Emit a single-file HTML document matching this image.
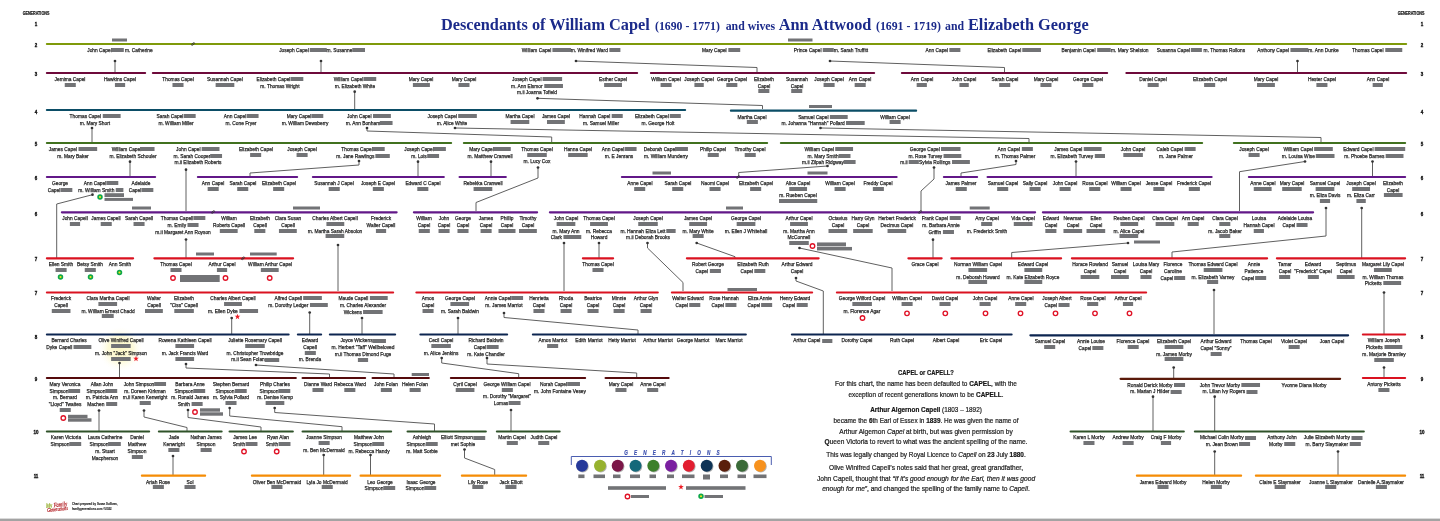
<!DOCTYPE html>
<html lang="en"><head><meta charset="utf-8"><title>Descendants of William Capel</title>
<style>
html,body{margin:0;padding:0;background:#fff}
#c{position:relative;width:1440px;height:521px;overflow:hidden;background:#fff;font-family:"Liberation Sans",sans-serif}
#c svg{position:absolute;left:0;top:0}
.n{position:absolute;transform:translateX(-50%) scaleX(0.85);white-space:nowrap;text-align:center;font-size:5.7px;line-height:6.67px;color:#1c1c1c;-webkit-text-stroke:0.25px #222}
.n p{margin:0}
.n p.b{height:5.6px;line-height:5.6px}
.n i{display:inline-block;height:4px;background:#727376;vertical-align:-0.1px}
.g{position:absolute;font-weight:bold;font-size:5.6px;line-height:6px;color:#111;-webkit-text-stroke:0.35px #111;transform:translate(-50%,-50%) scaleX(.8);white-space:nowrap}
.gh{position:absolute;font-weight:bold;font-size:5.2px;line-height:6px;color:#111;transform:translate(-50%,-50%) scaleX(.71);white-space:nowrap;-webkit-text-stroke:0.2px #111}
.t{position:absolute;font-family:"Liberation Serif",serif;font-weight:bold;color:#1b2a8a;white-space:nowrap;line-height:20px}
.t1{font-size:16.3px}
.t2{font-size:11.8px}
.nt{position:absolute;left:925.7px;font-size:7.3px;line-height:10px;color:#1d1d1d;white-space:nowrap;-webkit-text-stroke:0.22px #222}
.nt b{color:#111}
#credit{position:absolute;left:72px;top:500.5px;font-size:3.9px;line-height:5px;color:#222;white-space:nowrap;transform-origin:0 0;transform:scaleX(.72);font-weight:bold;-webkit-text-stroke:0.12px #222}
.lg{position:absolute;font-family:"Liberation Serif",serif;font-style:italic;font-weight:normal;font-size:6.4px;line-height:7px;color:#b0181e;white-space:nowrap;transform-origin:0 50%;transform:rotate(-6deg) scaleX(.76);-webkit-text-stroke:0.2px currentColor;letter-spacing:0}
#legt{position:absolute;left:675.2px;top:449px;transform:translateX(-50%) scaleX(.7);font-size:6.6px;line-height:8px;letter-spacing:8.8px;color:#3a4fae;-webkit-text-stroke:0.2px #3a4fae;font-style:italic;white-space:nowrap;font-weight:bold}
</style></head><body><div id="c">

<svg width="1440" height="521" viewBox="0 0 1440 521">
<defs><radialGradient id="glow"><stop offset="0" stop-color="#fcf7c6"/><stop offset="0.55" stop-color="#fdfad9"/><stop offset="1" stop-color="#ffffff" stop-opacity="0"/></radialGradient><filter id="sh" x="-30%" y="-30%" width="170%" height="170%"><feGaussianBlur stdDeviation="0.7"/></filter></defs>
<circle cx="120.5" cy="349" r="23" fill="url(#glow)"/>
<g fill="none" stroke="#606060" stroke-width="1" stroke-linejoin="round">
<polyline points="115,61 115,72"/>
<polyline points="321,61 321,72"/>
<polyline points="576,61 757,67.5 757,72"/>
<polyline points="830,61 1004.5,67.5 1004.5,72"/>
<polyline points="1297.5,61 1297.5,72"/>
<polyline points="354.7,91.7 354.7,109"/>
<polyline points="537.5,98.3 762.5,105.5 762.5,109"/>
<polyline points="92,128 92,142"/>
<polyline points="367,128 367,131 551.7,137 551.7,142"/>
<polyline points="455,128 1029,138.5 1029,142"/>
<polyline points="820.5,128 1321,137.5 1321,142"/>
<polyline points="130,161.7 130,176"/>
<polyline points="186,169.7 186,211"/>
<polyline points="359,161 359,165 250,173 250,176"/>
<polyline points="418,161.7 418,176"/>
<polyline points="491,161.7 491,176"/>
<polyline points="538,167.5 538,178 476,202.5 476,211"/>
<polyline points="827.5,166 738.7,172.5 738.7,176"/>
<polyline points="934,167.5 934,179 921,191 921,211"/>
<polyline points="1016,161 1016,164.5 961,173 961,176"/>
<polyline points="1076,161.5 1076,176"/>
<polyline points="1305,161.5 1239.5,171.7 1239.5,211"/>
<polyline points="1372.5,161.5 1372.5,176"/>
<polyline points="92.5,194.7 56.7,204 56.7,258"/>
<polyline points="186,239.5 186,258"/>
<polyline points="338,245 338,291"/>
<polyline points="564,243 564,291"/>
<polyline points="599,243 599,258"/>
<polyline points="647.5,243 647.5,248 683,282.5 683,291"/>
<polyline points="696.7,243 735,256.7 735,258"/>
<polyline points="799.5,248 892,268 892,291"/>
<polyline points="933,239.7 933,258"/>
<polyline points="1128,243 1011.7,252.5 1011.7,258"/>
<polyline points="1326,208 1326,236 1172,252 1172,258"/>
<polyline points="1361.7,208 1361.7,258"/>
<polyline points="796,278 796,281 823.3,291 823.3,334"/>
<polyline points="231.7,318 231.7,334"/>
<polyline points="309.7,312.5 309.7,334"/>
<polyline points="362,318 362,334"/>
<polyline points="458,318 458,334"/>
<polyline points="504,313 504,317.5 638,330 638,334"/>
<polyline points="1214,290 1214,334"/>
<polyline points="1384,292.5 1384,334"/>
<polyline points="119.5,363 119.5,377"/>
<polyline points="186,364 186,368 329.5,374 329.5,377"/>
<polyline points="256,365 394,374 394,377"/>
<polyline points="441.7,358 441.7,363 518.7,373.7 518.7,377"/>
<polyline points="487,358 487,364 636.7,373 636.7,377"/>
<polyline points="1173.7,367.5 1173.7,378"/>
<polyline points="1384,367.5 1384,377"/>
<polyline points="99,410.5 99,431"/>
<polyline points="144,410.5 144,417 187,427.5 187,431"/>
<polyline points="188,410 188,417.5 261,427 261,431"/>
<polyline points="229.7,408 229.7,416 342,426.7 342,431"/>
<polyline points="274.7,408 274.7,412.5 434.5,424 434.5,431"/>
<polyline points="511,410 511,431"/>
<polyline points="1153,396.7 1153,431"/>
<polyline points="1214.7,396.7 1214.7,431"/>
<polyline points="173,456 173,475"/>
<polyline points="323.7,455 323.7,475"/>
<polyline points="370.5,455 370.5,475"/>
<polyline points="464.5,449.5 464.5,458 494.7,469.5 494.7,475"/>
<polyline points="1214.7,451.5 1214.7,475"/>
<polyline points="1338,451.5 1338,475"/>
</g><g fill="#333">
<circle cx="115" cy="61" r="1.35"/>
<circle cx="321" cy="61" r="1.35"/>
<circle cx="576" cy="61" r="1.35"/>
<circle cx="830" cy="61" r="1.35"/>
<circle cx="1297.5" cy="61" r="1.35"/>
<circle cx="354.7" cy="91.7" r="1.35"/>
<circle cx="537.5" cy="98.3" r="1.35"/>
<circle cx="92" cy="128" r="1.35"/>
<circle cx="367" cy="128" r="1.35"/>
<circle cx="455" cy="128" r="1.35"/>
<circle cx="820.5" cy="128" r="1.35"/>
<circle cx="130" cy="161.7" r="1.35"/>
<circle cx="186" cy="169.7" r="1.35"/>
<circle cx="359" cy="161" r="1.35"/>
<circle cx="418" cy="161.7" r="1.35"/>
<circle cx="491" cy="161.7" r="1.35"/>
<circle cx="538" cy="167.5" r="1.35"/>
<circle cx="827.5" cy="166" r="1.35"/>
<circle cx="934" cy="167.5" r="1.35"/>
<circle cx="1016" cy="161" r="1.35"/>
<circle cx="1076" cy="161.5" r="1.35"/>
<circle cx="1305" cy="161.5" r="1.35"/>
<circle cx="1372.5" cy="161.5" r="1.35"/>
<circle cx="92.5" cy="194.7" r="1.35"/>
<circle cx="186" cy="239.5" r="1.35"/>
<circle cx="338" cy="245" r="1.35"/>
<circle cx="564" cy="243" r="1.35"/>
<circle cx="599" cy="243" r="1.35"/>
<circle cx="647.5" cy="243" r="1.35"/>
<circle cx="696.7" cy="243" r="1.35"/>
<circle cx="799.5" cy="248" r="1.35"/>
<circle cx="933" cy="239.7" r="1.35"/>
<circle cx="1128" cy="243" r="1.35"/>
<circle cx="1326" cy="208" r="1.35"/>
<circle cx="1361.7" cy="208" r="1.35"/>
<circle cx="796" cy="278" r="1.35"/>
<circle cx="231.7" cy="318" r="1.35"/>
<circle cx="309.7" cy="312.5" r="1.35"/>
<circle cx="362" cy="318" r="1.35"/>
<circle cx="458" cy="318" r="1.35"/>
<circle cx="504" cy="313" r="1.35"/>
<circle cx="1214" cy="290" r="1.35"/>
<circle cx="1384" cy="292.5" r="1.35"/>
<circle cx="119.5" cy="363" r="1.35"/>
<circle cx="186" cy="364" r="1.35"/>
<circle cx="256" cy="365" r="1.35"/>
<circle cx="441.7" cy="358" r="1.35"/>
<circle cx="487" cy="358" r="1.35"/>
<circle cx="1173.7" cy="367.5" r="1.35"/>
<circle cx="1384" cy="367.5" r="1.35"/>
<circle cx="99" cy="410.5" r="1.35"/>
<circle cx="144" cy="410.5" r="1.35"/>
<circle cx="188" cy="410" r="1.35"/>
<circle cx="229.7" cy="408" r="1.35"/>
<circle cx="274.7" cy="408" r="1.35"/>
<circle cx="511" cy="410" r="1.35"/>
<circle cx="1153" cy="396.7" r="1.35"/>
<circle cx="1214.7" cy="396.7" r="1.35"/>
<circle cx="173" cy="456" r="1.35"/>
<circle cx="323.7" cy="455" r="1.35"/>
<circle cx="370.5" cy="455" r="1.35"/>
<circle cx="464.5" cy="449.5" r="1.35"/>
<circle cx="1214.7" cy="451.5" r="1.35"/>
<circle cx="1338" cy="451.5" r="1.35"/>
</g>
<g stroke="#7f9a0a" stroke-width="2.2" stroke-linecap="round">
<line x1="46.9" y1="44" x2="1406.1" y2="44"/>
</g>
<g stroke="#6e0a3b" stroke-width="2.2" stroke-linecap="round">
<line x1="46.9" y1="73" x2="145.1" y2="73"/>
<line x1="152.9" y1="73" x2="637.1" y2="73"/>
<line x1="650.9" y1="73" x2="874.1" y2="73"/>
<line x1="901.9" y1="73" x2="1107.1" y2="73"/>
<line x1="1126.4" y1="73" x2="1406.1" y2="73"/>
</g>
<g stroke="#0b4d66" stroke-width="2.2" stroke-linecap="round">
<line x1="46.9" y1="110" x2="685.1" y2="110"/>
</g>
<g stroke="#0b4d66" stroke-width="2.2" stroke-linecap="round">
<line x1="730.9" y1="110.7" x2="916.1" y2="110.7"/>
</g>
<g stroke="#41711f" stroke-width="2.2" stroke-linecap="round">
<line x1="46.9" y1="143" x2="451.1" y2="143"/>
<line x1="463.9" y1="143" x2="767.1" y2="143"/>
<line x1="780.9" y1="143" x2="1202.1" y2="143"/>
<line x1="1233.9" y1="143" x2="1405.1" y2="143"/>
</g>
<g stroke="#621888" stroke-width="2.2" stroke-linecap="round">
<line x1="46.9" y1="177" x2="155.1" y2="177"/>
<line x1="197.9" y1="177" x2="297.1" y2="177"/>
<line x1="312.9" y1="177" x2="443.8" y2="177"/>
<line x1="459.6" y1="177" x2="505.8" y2="177"/>
<line x1="621.9" y1="177" x2="896.6" y2="177"/>
<line x1="943.9" y1="177" x2="977.1" y2="177"/>
<line x1="987.6" y1="177" x2="1211.6" y2="177"/>
<line x1="1248.9" y1="177" x2="1405.1" y2="177"/>
</g>
<g stroke="#621888" stroke-width="2.2" stroke-linecap="round">
<line x1="61.9" y1="212.3" x2="396.6" y2="212.3"/>
<line x1="413.9" y1="212.3" x2="537.1" y2="212.3"/>
<line x1="549.9" y1="212.3" x2="1035.1" y2="212.3"/>
<line x1="1042.9" y1="212.3" x2="1313.1" y2="212.3"/>
</g>
<g stroke="#da1220" stroke-width="2.2" stroke-linecap="round">
<line x1="46.9" y1="258.3" x2="133.1" y2="258.3"/>
<line x1="154.4" y1="258.3" x2="293.1" y2="258.3"/>
<line x1="582.9" y1="258.3" x2="613.1" y2="258.3"/>
<line x1="686.9" y1="258.3" x2="818.6" y2="258.3"/>
<line x1="908.4" y1="258.3" x2="941.6" y2="258.3"/>
<line x1="951.4" y1="258.3" x2="1061.1" y2="258.3"/>
<line x1="1071.9" y1="258.3" x2="1267.1" y2="258.3"/>
<line x1="1276.9" y1="258.3" x2="1405.1" y2="258.3"/>
</g>
<g stroke="#da1220" stroke-width="2.2" stroke-linecap="round">
<line x1="46.9" y1="292.5" x2="393.1" y2="292.5"/>
<line x1="416.4" y1="292.5" x2="657.8" y2="292.5"/>
<line x1="671.9" y1="292.5" x2="812.1" y2="292.5"/>
<line x1="836.9" y1="292.5" x2="1146.1" y2="292.5"/>
</g>
<g stroke="#0c2550" stroke-width="2.2" stroke-linecap="round">
<line x1="46.9" y1="334.5" x2="288.6" y2="334.5"/>
<line x1="297.9" y1="334.5" x2="321.1" y2="334.5"/>
<line x1="329.9" y1="334.5" x2="395.1" y2="334.5"/>
<line x1="420.4" y1="334.5" x2="507.1" y2="334.5"/>
<line x1="532.9" y1="334.5" x2="745.8" y2="334.5"/>
<line x1="791.9" y1="334.5" x2="1011.6" y2="334.5"/>
</g>
<g stroke="#0c2550" stroke-width="2.2" stroke-linecap="round">
<line x1="1030.4" y1="335.3" x2="1348.1" y2="335.3"/>
</g>
<g stroke="#da1220" stroke-width="2.2" stroke-linecap="round">
<line x1="1362.9" y1="334.5" x2="1405.1" y2="334.5"/>
</g>
<g stroke="#550a0c" stroke-width="2.2" stroke-linecap="round">
<line x1="46.9" y1="378" x2="295.8" y2="378"/>
<line x1="302.6" y1="378" x2="365.1" y2="378"/>
<line x1="372.6" y1="378" x2="428.8" y2="378"/>
<line x1="450.9" y1="378" x2="585.1" y2="378"/>
<line x1="605.6" y1="378" x2="668.6" y2="378"/>
</g>
<g stroke="#5a1a0a" stroke-width="2.2" stroke-linecap="round">
<line x1="1120.6" y1="378.8" x2="1340.1" y2="378.8"/>
</g>
<g stroke="#da1220" stroke-width="2.2" stroke-linecap="round">
<line x1="1362.9" y1="378" x2="1405.1" y2="378"/>
</g>
<g stroke="#2f5229" stroke-width="2.2" stroke-linecap="round">
<line x1="46.9" y1="431.5" x2="149.1" y2="431.5"/>
<line x1="158.9" y1="431.5" x2="221.6" y2="431.5"/>
<line x1="229.6" y1="431.5" x2="292.8" y2="431.5"/>
<line x1="302.6" y1="431.5" x2="391.1" y2="431.5"/>
<line x1="407.6" y1="431.5" x2="485.8" y2="431.5"/>
<line x1="496.9" y1="431.5" x2="559.6" y2="431.5"/>
<line x1="1070.6" y1="431.5" x2="1183.8" y2="431.5"/>
<line x1="1194.9" y1="431.5" x2="1363.8" y2="431.5"/>
</g>
<g stroke="#f58c05" stroke-width="2.2" stroke-linecap="round">
<line x1="141.9" y1="475.7" x2="205.1" y2="475.7"/>
<line x1="251.9" y1="475.7" x2="350.1" y2="475.7"/>
<line x1="360.6" y1="475.7" x2="440.1" y2="475.7"/>
<line x1="461.9" y1="475.7" x2="526.1" y2="475.7"/>
<line x1="1136.9" y1="475.7" x2="1241.1" y2="475.7"/>
<line x1="1255.9" y1="475.7" x2="1405.1" y2="475.7"/>
</g>
<g fill="#727376">
<rect x="112" y="38.5" width="15" height="3"/>
<rect x="788" y="38.5" width="24.5" height="3"/>
<rect x="809" y="105" width="23" height="3"/>
<rect x="652.5" y="171.5" width="18.5" height="3"/>
<rect x="807.5" y="171.5" width="20" height="3"/>
<rect x="132" y="206.5" width="19" height="3"/>
<rect x="293" y="206.5" width="27" height="3"/>
<rect x="726" y="206.5" width="17" height="3"/>
<rect x="969.7" y="206.5" width="20" height="3"/>
<rect x="104.5" y="193.2" width="19.5" height="3.8"/>
<rect x="104.5" y="197.9" width="28.5" height="3"/>
<rect x="817" y="242.45" width="29" height="3.9"/>
<rect x="817" y="246.95" width="35" height="3.5"/>
<rect x="1134" y="240.5" width="26" height="3"/>
<rect x="196" y="252.5" width="18" height="3"/>
<rect x="250" y="252.5" width="26.7" height="3"/>
<rect x="180" y="275" width="39.7" height="7"/>
<rect x="727.5" y="288" width="29.5" height="3"/>
<rect x="411.7" y="373" width="17.3" height="3"/>
<rect x="68" y="414.8" width="19.5" height="3.4"/>
<rect x="68" y="418.3" width="23.5" height="3.4"/>
<rect x="200" y="408.3" width="20" height="3.4"/>
<rect x="200" y="412.3" width="23" height="3.4"/>
<rect x="578.3" y="474.5" width="6.2" height="3.6"/>
<rect x="593.5" y="474.5" width="11.5" height="3.6"/>
<rect x="613" y="474.5" width="7.5" height="3.6"/>
<rect x="630" y="474.5" width="10" height="3.6"/>
<rect x="649.5" y="474.5" width="6.5" height="3.6"/>
<rect x="667" y="474.5" width="7" height="3.6"/>
<rect x="682" y="474.5" width="12.5" height="3.6"/>
<rect x="703" y="474.5" width="7" height="5"/>
<rect x="720" y="474.5" width="8" height="3.6"/>
<rect x="737.5" y="474.5" width="8.5" height="3.6"/>
<rect x="753.5" y="474.5" width="13" height="3.6"/>
<rect x="608" y="486.2" width="58" height="3.6"/>
<rect x="686" y="486.2" width="59.5" height="3.6"/>
<rect x="631" y="495" width="18" height="3"/>
<rect x="704.5" y="495" width="18.5" height="3"/>
</g>
<g transform="translate(193,44) rotate(-38)" fill="none" stroke="#333" stroke-width="0.7"><rect x="-1.9" y="-0.75" width="2.1" height="1.5" rx="0.75"/><rect x="-0.2" y="-0.75" width="2.1" height="1.5" rx="0.75"/></g>
<g transform="translate(213,212) rotate(-38)" fill="none" stroke="#333" stroke-width="0.7"><rect x="-1.9" y="-0.75" width="2.1" height="1.5" rx="0.75"/><rect x="-0.2" y="-0.75" width="2.1" height="1.5" rx="0.75"/></g>
<g transform="translate(920,212) rotate(-38)" fill="none" stroke="#333" stroke-width="0.7"><rect x="-1.9" y="-0.75" width="2.1" height="1.5" rx="0.75"/><rect x="-0.2" y="-0.75" width="2.1" height="1.5" rx="0.75"/></g>
<g transform="translate(738,177) rotate(-38)" fill="none" stroke="#333" stroke-width="0.7"><rect x="-1.9" y="-0.75" width="2.1" height="1.5" rx="0.75"/><rect x="-0.2" y="-0.75" width="2.1" height="1.5" rx="0.75"/></g>
<g transform="translate(243,258.3) rotate(-38)" fill="none" stroke="#333" stroke-width="0.7"><rect x="-1.9" y="-0.75" width="2.1" height="1.5" rx="0.75"/><rect x="-0.2" y="-0.75" width="2.1" height="1.5" rx="0.75"/></g>
<circle cx="100" cy="197" r="1.9" fill="#f2e61a" stroke="#0fa84b" stroke-width="1.7"/>
<circle cx="60.5" cy="277" r="1.9" fill="#f2e61a" stroke="#0fa84b" stroke-width="1.7"/>
<circle cx="90.5" cy="277" r="1.9" fill="#f2e61a" stroke="#0fa84b" stroke-width="1.7"/>
<circle cx="119.5" cy="272.5" r="1.9" fill="#f2e61a" stroke="#0fa84b" stroke-width="1.7"/>
<circle cx="701" cy="496.3" r="1.9" fill="#f2e61a" stroke="#0fa84b" stroke-width="1.7"/>
<circle cx="173" cy="278" r="2.25" fill="#fff" stroke="#e01226" stroke-width="1.35"/>
<circle cx="225.5" cy="278" r="2.25" fill="#fff" stroke="#e01226" stroke-width="1.35"/>
<circle cx="269.7" cy="278" r="2.25" fill="#fff" stroke="#e01226" stroke-width="1.35"/>
<circle cx="812.5" cy="246" r="2.25" fill="#fff" stroke="#e01226" stroke-width="1.35"/>
<circle cx="862.5" cy="318" r="2.25" fill="#fff" stroke="#e01226" stroke-width="1.35"/>
<circle cx="907" cy="313.3" r="2.25" fill="#fff" stroke="#e01226" stroke-width="1.35"/>
<circle cx="945.3" cy="313.3" r="2.25" fill="#fff" stroke="#e01226" stroke-width="1.35"/>
<circle cx="985.5" cy="313.3" r="2.25" fill="#fff" stroke="#e01226" stroke-width="1.35"/>
<circle cx="1020.5" cy="313.3" r="2.25" fill="#fff" stroke="#e01226" stroke-width="1.35"/>
<circle cx="1055.5" cy="313.3" r="2.25" fill="#fff" stroke="#e01226" stroke-width="1.35"/>
<circle cx="1095" cy="313.3" r="2.25" fill="#fff" stroke="#e01226" stroke-width="1.35"/>
<circle cx="1129.5" cy="313.3" r="2.25" fill="#fff" stroke="#e01226" stroke-width="1.35"/>
<circle cx="63.3" cy="418" r="2.25" fill="#fff" stroke="#e01226" stroke-width="1.35"/>
<circle cx="195" cy="412" r="2.25" fill="#fff" stroke="#e01226" stroke-width="1.35"/>
<circle cx="244" cy="451.5" r="2.25" fill="#fff" stroke="#e01226" stroke-width="1.35"/>
<circle cx="276.7" cy="451.5" r="2.25" fill="#fff" stroke="#e01226" stroke-width="1.35"/>
<circle cx="627.5" cy="496.5" r="2.25" fill="#fff" stroke="#e01226" stroke-width="1.35"/>
<polygon points="237.5,313.7 238.21,315.73 240.35,315.77 238.64,317.07 239.26,319.13 237.5,317.9 235.74,319.13 236.36,317.07 234.65,315.77 236.79,315.73" fill="#ee1c25"/>
<polygon points="136,355.7 136.71,357.73 138.85,357.77 137.14,359.07 137.76,361.13 136,359.9 134.24,361.13 134.86,359.07 133.15,357.77 135.29,357.73" fill="#ee1c25"/>
<polygon points="681,484 681.71,486.03 683.85,486.07 682.14,487.37 682.76,489.43 681,488.2 679.24,489.43 679.86,487.37 678.15,486.07 680.29,486.03" fill="#ee1c25"/>
<path d="M571.3 465 V456.5 H771.3 V465" fill="none" stroke="#4a5db0" stroke-width="1"/>
<circle cx="582.8" cy="466.6" r="6" fill="#777" opacity=".55" filter="url(#sh)"/>
<circle cx="582" cy="465.7" r="6" fill="#26399a"/>
<circle cx="600.8" cy="466.6" r="6" fill="#777" opacity=".55" filter="url(#sh)"/>
<circle cx="600" cy="465.7" r="6" fill="#97b22f"/>
<circle cx="618.5" cy="466.6" r="6" fill="#777" opacity=".55" filter="url(#sh)"/>
<circle cx="617.7" cy="465.7" r="6" fill="#7b1648"/>
<circle cx="636.3" cy="466.6" r="6" fill="#777" opacity=".55" filter="url(#sh)"/>
<circle cx="635.5" cy="465.7" r="6" fill="#14687a"/>
<circle cx="654.1" cy="466.6" r="6" fill="#777" opacity=".55" filter="url(#sh)"/>
<circle cx="653.3" cy="465.7" r="6" fill="#3c7f2a"/>
<circle cx="671.8" cy="466.6" r="6" fill="#777" opacity=".55" filter="url(#sh)"/>
<circle cx="671" cy="465.7" r="6" fill="#7a1fa0"/>
<circle cx="689.6" cy="466.6" r="6" fill="#777" opacity=".55" filter="url(#sh)"/>
<circle cx="688.8" cy="465.7" r="6" fill="#e21e30"/>
<circle cx="707.5" cy="466.6" r="6" fill="#777" opacity=".55" filter="url(#sh)"/>
<circle cx="706.7" cy="465.7" r="6" fill="#0e3356"/>
<circle cx="725.3" cy="466.6" r="6" fill="#777" opacity=".55" filter="url(#sh)"/>
<circle cx="724.5" cy="465.7" r="6" fill="#5a1f0c"/>
<circle cx="742.8" cy="466.6" r="6" fill="#777" opacity=".55" filter="url(#sh)"/>
<circle cx="742" cy="465.7" r="6" fill="#3a6a38"/>
<circle cx="760.8" cy="466.6" r="6" fill="#777" opacity=".55" filter="url(#sh)"/>
<circle cx="760" cy="465.7" r="6" fill="#f7921e"/>
<rect x="0" y="518.6" width="1440" height="2.4" fill="#a3a3a3"/>
</svg>
<div class="t t1" style="left:441px;top:14.5px">Descendants of William Capel</div>
<div class="t t2" style="left:655px;top:16.02px">(1690 - 1771)</div>
<div class="t t2" style="left:725.7px;top:16.02px">and wives</div>
<div class="t t1" style="left:778.7px;top:14.5px">Ann Attwood</div>
<div class="t t2" style="left:876px;top:16.02px">(1691 - 1719)</div>
<div class="t t2" style="left:945px;top:16.02px">and</div>
<div class="t t1" style="left:968px;top:14.5px">Elizabeth George</div>
<div class="gh" style="left:36.3px;top:12.9px">GENERATIONS</div>
<div class="gh" style="left:1410.6px;top:12.9px">GENERATIONS</div>
<div class="g" style="left:36px;top:24px">1</div>
<div class="g" style="left:1421.5px;top:24px">1</div>
<div class="g" style="left:36px;top:45px">2</div>
<div class="g" style="left:1421.5px;top:45px">2</div>
<div class="g" style="left:36px;top:74px">3</div>
<div class="g" style="left:1421.5px;top:74px">3</div>
<div class="g" style="left:36px;top:111.5px">4</div>
<div class="g" style="left:1421.5px;top:111.5px">4</div>
<div class="g" style="left:36px;top:143.5px">5</div>
<div class="g" style="left:1421.5px;top:143.5px">5</div>
<div class="g" style="left:36px;top:178px">6</div>
<div class="g" style="left:1421.5px;top:178px">6</div>
<div class="g" style="left:36px;top:214px">6</div>
<div class="g" style="left:1421.5px;top:214px">6</div>
<div class="g" style="left:36px;top:259px">7</div>
<div class="g" style="left:1421.5px;top:259px">7</div>
<div class="g" style="left:36px;top:293px">7</div>
<div class="g" style="left:1421.5px;top:293px">7</div>
<div class="g" style="left:36px;top:337px">8</div>
<div class="g" style="left:1421.5px;top:337px">8</div>
<div class="g" style="left:36px;top:379px">9</div>
<div class="g" style="left:1421.5px;top:379px">9</div>
<div class="g" style="left:36px;top:432px">10</div>
<div class="g" style="left:1421.5px;top:432px">10</div>
<div class="g" style="left:36px;top:476px">11</div>
<div class="g" style="left:1421.5px;top:476px">11</div>
<div class="n" style="left:119.5px;top:46.99px"><p>John Capel<i style="width:14.12px"></i> m. Catherine</p></div>
<div class="n" style="left:322px;top:46.99px"><p>Joseph Capel <i style="width:19.41px"></i>m. Susanne<i style="width:14.71px"></i></p></div>
<div class="n" style="left:571px;top:46.99px"><p>William Capel <i style="width:21.18px"></i>m. Winifred Ward <i style="width:12.94px"></i></p></div>
<div class="n" style="left:721px;top:46.99px"><p>Mary Capel <i style="width:14.12px"></i></p></div>
<div class="n" style="left:831px;top:46.99px"><p>Prince Capel <i style="width:12.94px"></i>m. Sarah Truffitt</p></div>
<div class="n" style="left:943px;top:46.99px"><p>Ann Capel <i style="width:12.94px"></i></p></div>
<div class="n" style="left:1014px;top:46.99px"><p>Elizabeth Capel <i style="width:21.18px"></i></p></div>
<div class="n" style="left:1104.5px;top:46.99px"><p>Benjamin Capel <i style="width:16.47px"></i>m. Mary Shelston</p></div>
<div class="n" style="left:1201px;top:46.99px"><p>Susanna Capel <i style="width:12.94px"></i> m. Thomas Rollons</p></div>
<div class="n" style="left:1298px;top:46.99px"><p>Anthony Capel <i style="width:21.18px"></i>m. Ann Dunke</p></div>
<div class="n" style="left:1377px;top:46.99px"><p>Thomas Capel <i style="width:20px"></i></p></div>
<div class="n" style="left:70px;top:75.99px"><p>Jemima Capel</p><p class="b"><i style="width:12.94px"></i></p></div>
<div class="n" style="left:120px;top:75.99px"><p>Hawkins Capel</p><p class="b"><i style="width:11.76px"></i></p></div>
<div class="n" style="left:178px;top:75.99px"><p>Thomas Capel</p><p class="b"><i style="width:12.94px"></i></p></div>
<div class="n" style="left:225px;top:75.99px"><p>Susannah Capel</p><p class="b"><i style="width:22.35px"></i></p></div>
<div class="n" style="left:280px;top:75.99px"><p>Elizabeth Capel<i style="width:15.29px"></i></p><p>m. Thomas Wright</p></div>
<div class="n" style="left:355px;top:75.99px"><p>William Capel<i style="width:15.29px"></i></p><p>m. Elizabeth White</p></div>
<div class="n" style="left:421px;top:75.99px"><p>Mary Capel</p><p class="b"><i style="width:20px"></i></p></div>
<div class="n" style="left:464px;top:75.99px"><p>Mary Capel</p><p class="b"><i style="width:12.94px"></i></p></div>
<div class="n" style="left:537px;top:75.99px"><p>Joseph Capel <i style="width:22.35px"></i></p><p>m. Ann Elsmor <i style="width:22.35px"></i></p><p>m.ii Joanna Tofield</p></div>
<div class="n" style="left:613px;top:75.99px"><p>Esther Capel</p><p class="b"><i style="width:21.18px"></i></p></div>
<div class="n" style="left:666px;top:75.99px"><p>William Capel</p><p class="b"><i style="width:12.94px"></i></p></div>
<div class="n" style="left:699px;top:75.99px"><p>Joseph Capel</p><p class="b"><i style="width:11.76px"></i></p></div>
<div class="n" style="left:732px;top:75.99px"><p>George Capel</p><p class="b"><i style="width:12.94px"></i></p></div>
<div class="n" style="left:764px;top:75.99px"><p>Elizabeth</p><p>Capel</p><p class="b"><i style="width:12.94px"></i></p></div>
<div class="n" style="left:797px;top:75.99px"><p>Susannah</p><p>Capel</p><p class="b"><i style="width:12.94px"></i></p></div>
<div class="n" style="left:829px;top:75.99px"><p>Joseph Capel</p><p class="b"><i style="width:12.94px"></i></p></div>
<div class="n" style="left:860px;top:75.99px"><p>Ann Capel</p><p class="b"><i style="width:12.94px"></i></p></div>
<div class="n" style="left:922px;top:75.99px"><p>Ann Capel</p><p class="b"><i style="width:11.76px"></i></p></div>
<div class="n" style="left:963.5px;top:75.99px"><p>John Capel</p><p class="b"><i style="width:11.76px"></i></p></div>
<div class="n" style="left:1005px;top:75.99px"><p>Sarah Capel</p><p class="b"><i style="width:12.94px"></i></p></div>
<div class="n" style="left:1046px;top:75.99px"><p>Mary Capel</p><p class="b"><i style="width:12.94px"></i></p></div>
<div class="n" style="left:1087.5px;top:75.99px"><p>George Capel</p><p class="b"><i style="width:12.94px"></i></p></div>
<div class="n" style="left:1153px;top:75.99px"><p>Daniel Capel</p><p class="b"><i style="width:12.94px"></i></p></div>
<div class="n" style="left:1209.5px;top:75.99px"><p>Elizabeth Capel</p><p class="b"><i style="width:12.94px"></i></p></div>
<div class="n" style="left:1266px;top:75.99px"><p>Mary Capel</p><p class="b"><i style="width:21.18px"></i></p></div>
<div class="n" style="left:1322px;top:75.99px"><p>Hester Capel</p><p class="b"><i style="width:12.94px"></i></p></div>
<div class="n" style="left:1378px;top:75.99px"><p>Ann Capel</p><p class="b"><i style="width:11.76px"></i></p></div>
<div class="n" style="left:95px;top:112.99px"><p>Thomas Capel <i style="width:21.18px"></i></p><p>m. Mary Short</p></div>
<div class="n" style="left:176px;top:112.99px"><p>Sarah Capel<i style="width:14.12px"></i></p><p>m. William Miller</p></div>
<div class="n" style="left:241px;top:112.99px"><p>Ann Capel<i style="width:14.12px"></i></p><p>m. Cone Fryer</p></div>
<div class="n" style="left:305px;top:112.99px"><p>Mary Capel<i style="width:14.12px"></i></p><p>m. William Dewsberry</p></div>
<div class="n" style="left:369px;top:112.99px"><p>John Capel <i style="width:21.18px"></i></p><p>m. Ann Bonham<i style="width:14.12px"></i></p></div>
<div class="n" style="left:451.5px;top:112.99px"><p>Joseph Capel <i style="width:21.18px"></i></p><p>m. Alice White</p></div>
<div class="n" style="left:520px;top:112.99px"><p>Martha Capel</p><p class="b"><i style="width:22.35px"></i></p></div>
<div class="n" style="left:556px;top:112.99px"><p>James Capel</p><p class="b"><i style="width:21.18px"></i></p></div>
<div class="n" style="left:601px;top:112.99px"><p>Hannah Capel <i style="width:12.94px"></i></p><p>m. Samuel Miller</p></div>
<div class="n" style="left:657.5px;top:112.99px"><p>Elizabeth Capel <i style="width:12.94px"></i></p><p>m. George Holt</p></div>
<div class="n" style="left:752px;top:113.69px"><p>Martha Capel</p><p class="b"><i style="width:12.94px"></i></p></div>
<div class="n" style="left:823px;top:113.69px"><p>Samuel Capel <i style="width:21.18px"></i></p><p>m. Johanna "Hannah" Pollard <i style="width:21.76px"></i></p></div>
<div class="n" style="left:894.5px;top:113.69px"><p>William Capel</p><p class="b"><i style="width:12.94px"></i></p></div>
<div class="n" style="left:72.5px;top:145.99px"><p>James Capel <i style="width:22.35px"></i></p><p>m. Mary Baker</p></div>
<div class="n" style="left:132.5px;top:145.99px"><p>William Capel<i style="width:15.29px"></i></p><p>m. Elizabeth Schouler</p></div>
<div class="n" style="left:198px;top:145.99px"><p>John Capel <i style="width:21.18px"></i></p><p>m. Sarah Cooper<i style="width:14.12px"></i></p><p>m.ii Elizabeth Roberts</p></div>
<div class="n" style="left:256px;top:145.99px"><p>Elizabeth Capel</p><p class="b"><i style="width:12.94px"></i></p></div>
<div class="n" style="left:302px;top:145.99px"><p>Joseph Capel</p><p class="b"><i style="width:12.94px"></i></p></div>
<div class="n" style="left:362.5px;top:145.99px"><p>Thomas Capel<i style="width:14.12px"></i></p><p>m. Jane Rawlings <i style="width:16.47px"></i></p></div>
<div class="n" style="left:425px;top:145.99px"><p>Joseph Capel<i style="width:14.12px"></i></p><p>m. Lois<i style="width:14.12px"></i></p></div>
<div class="n" style="left:490px;top:145.99px"><p>Mary Capel<i style="width:20px"></i></p><p>m. Matthew Cranwell</p></div>
<div class="n" style="left:536.7px;top:145.99px"><p>Thomas Capel</p><p class="b"><i style="width:22.35px"></i></p><p>m. Lucy Cox</p></div>
<div class="n" style="left:578px;top:145.99px"><p>Hanna Capel</p><p class="b"><i style="width:22.35px"></i></p></div>
<div class="n" style="left:619px;top:145.99px"><p>Ann Capel<i style="width:14.12px"></i></p><p>m. E Jenrans</p></div>
<div class="n" style="left:666px;top:145.99px"><p>Deborah Capel<i style="width:14.12px"></i></p><p>m. William Munderry</p></div>
<div class="n" style="left:712.5px;top:145.99px"><p>Philip Capel</p><p class="b"><i style="width:12.94px"></i></p></div>
<div class="n" style="left:749.7px;top:145.99px"><p>Timothy Capel</p><p class="b"><i style="width:12.94px"></i></p></div>
<div class="n" style="left:829px;top:145.99px"><p>William Capel <i style="width:21.18px"></i></p><p>m. Mary Smith<i style="width:14.12px"></i></p><p>m.ii Zilpah Ridgway<i style="width:14.12px"></i></p></div>
<div class="n" style="left:935px;top:145.99px"><p>George Capel <i style="width:22.35px"></i></p><p>m. Rose Turvey <i style="width:21.18px"></i></p><p>m.ii <i style="width:11.76px"></i>Sylvia Rollings <i style="width:21.18px"></i></p></div>
<div class="n" style="left:1015px;top:145.99px"><p>Ann Capel <i style="width:12.94px"></i></p><p>m. Thomas Palmer</p></div>
<div class="n" style="left:1077.5px;top:145.99px"><p>James Capel <i style="width:21.18px"></i></p><p>m. Elizabeth Turvey <i style="width:12.94px"></i></p></div>
<div class="n" style="left:1133px;top:145.99px"><p>John Capel</p><p class="b"><i style="width:22.35px"></i></p></div>
<div class="n" style="left:1176px;top:145.99px"><p>Caleb Capel <i style="width:12.94px"></i></p><p>m. Jane Palmer</p></div>
<div class="n" style="left:1253.7px;top:145.99px"><p>Joseph Capel</p><p class="b"><i style="width:12.94px"></i></p></div>
<div class="n" style="left:1308px;top:145.99px"><p>William Capel <i style="width:21.18px"></i></p><p>m. Louisa Wise <i style="width:21.18px"></i></p></div>
<div class="n" style="left:1374px;top:145.99px"><p>Edward Capel <i style="width:35.29px"></i></p><p>m. Phoebe Barnes <i style="width:21.18px"></i></p></div>
<div class="n" style="left:60px;top:179.99px"><p>George</p><p>Capel<i style="width:14.12px"></i></p></div>
<div class="n" style="left:101px;top:179.99px"><p>Ann Capel<i style="width:14.12px"></i></p><p>m. William Smith <i style="width:9.41px"></i></p></div>
<div class="n" style="left:141px;top:179.99px"><p>Adelaide</p><p>Capel<i style="width:14.12px"></i></p></div>
<div class="n" style="left:212.5px;top:179.99px"><p>Ann Capel</p><p class="b"><i style="width:12.94px"></i></p></div>
<div class="n" style="left:243px;top:179.99px"><p>Sarah Capel</p><p class="b"><i style="width:12.94px"></i></p></div>
<div class="n" style="left:279px;top:179.99px"><p>Elizabeth Capel</p><p class="b"><i style="width:12.94px"></i></p></div>
<div class="n" style="left:334px;top:179.99px"><p>Susannah J Capel</p><p class="b"><i style="width:12.94px"></i></p></div>
<div class="n" style="left:378px;top:179.99px"><p>Joseph E Capel</p><p class="b"><i style="width:12.94px"></i></p></div>
<div class="n" style="left:422.5px;top:179.99px"><p>Edward C Capel</p><p class="b"><i style="width:12.94px"></i></p></div>
<div class="n" style="left:482.5px;top:179.99px"><p>Rebekka Cranwell</p><p class="b"><i style="width:21.18px"></i></p></div>
<div class="n" style="left:639.7px;top:179.99px"><p>Anne Capel</p><p class="b"><i style="width:12.94px"></i></p></div>
<div class="n" style="left:678px;top:179.99px"><p>Sarah Capel</p><p class="b"><i style="width:12.94px"></i></p></div>
<div class="n" style="left:715px;top:179.99px"><p>Naomi Capel</p><p class="b"><i style="width:12.94px"></i></p></div>
<div class="n" style="left:755.5px;top:179.99px"><p>Elizabeth Capel</p><p class="b"><i style="width:12.94px"></i></p></div>
<div class="n" style="left:798px;top:179.99px"><p>Alice Capel</p><p class="b"><i style="width:21.18px"></i></p><p>m. Rueben Capel</p><p class="b"><i style="width:44.71px"></i></p></div>
<div class="n" style="left:840px;top:179.99px"><p>William Capel</p><p class="b"><i style="width:12.94px"></i></p></div>
<div class="n" style="left:878px;top:179.99px"><p>Freddy Capel</p><p class="b"><i style="width:12.94px"></i></p></div>
<div class="n" style="left:961px;top:179.99px"><p>James Palmer</p><p class="b"><i style="width:12.94px"></i></p></div>
<div class="n" style="left:1003px;top:179.99px"><p>Samuel Capel</p><p class="b"><i style="width:12.94px"></i></p></div>
<div class="n" style="left:1035px;top:179.99px"><p>Sally Capel</p><p class="b"><i style="width:12.94px"></i></p></div>
<div class="n" style="left:1065px;top:179.99px"><p>John Capel</p><p class="b"><i style="width:12.94px"></i></p></div>
<div class="n" style="left:1094.5px;top:179.99px"><p>Rosa Capel</p><p class="b"><i style="width:12.94px"></i></p></div>
<div class="n" style="left:1126px;top:179.99px"><p>William Capel</p><p class="b"><i style="width:12.94px"></i></p></div>
<div class="n" style="left:1158.7px;top:179.99px"><p>Jesse Capel</p><p class="b"><i style="width:12.94px"></i></p></div>
<div class="n" style="left:1194px;top:179.99px"><p>Frederick Capel</p><p class="b"><i style="width:12.94px"></i></p></div>
<div class="n" style="left:1262.5px;top:179.99px"><p>Anne Capel</p><p class="b"><i style="width:21.18px"></i></p></div>
<div class="n" style="left:1292px;top:179.99px"><p>Mary Capel</p><p class="b"><i style="width:22.35px"></i></p></div>
<div class="n" style="left:1325px;top:179.99px"><p>Samuel Capel</p><p class="b"><i style="width:22.35px"></i></p><p>m. Eliza Davis</p><p class="b"><i style="width:12.94px"></i></p></div>
<div class="n" style="left:1361px;top:179.99px"><p>Joseph Capel</p><p class="b"><i style="width:21.18px"></i></p><p>m. Eliza Carr</p><p class="b"><i style="width:11.76px"></i></p></div>
<div class="n" style="left:1393px;top:179.99px"><p>Elizabeth</p><p>Capel</p><p class="b"><i style="width:22.35px"></i></p></div>
<div class="n" style="left:75px;top:215.29px"><p>John Capell</p><p class="b"><i style="width:12.94px"></i></p></div>
<div class="n" style="left:106px;top:215.29px"><p>James Capell</p><p class="b"><i style="width:12.94px"></i></p></div>
<div class="n" style="left:138.7px;top:215.29px"><p>Sarah Capell</p><p class="b"><i style="width:12.94px"></i></p></div>
<div class="n" style="left:183px;top:215.29px"><p>Thomas Capell<i style="width:14.12px"></i></p><p>m. Emily <i style="width:12.94px"></i></p><p>m.ii Margaret Ann Royson</p></div>
<div class="n" style="left:229px;top:215.29px"><p>William</p><p>Roberts Capell</p><p class="b"><i style="width:21.18px"></i></p></div>
<div class="n" style="left:260px;top:215.29px"><p>Elizabeth</p><p>Capell</p><p class="b"><i style="width:12.94px"></i></p></div>
<div class="n" style="left:288px;top:215.29px"><p>Clara Susan</p><p>Capell</p><p class="b"><i style="width:21.18px"></i></p></div>
<div class="n" style="left:334.5px;top:215.29px"><p>Charles Albert Capell</p><p class="b"><i style="width:21.18px"></i></p><p>m. Martha Sarah Absolon</p><p class="b"><i style="width:22.35px"></i></p></div>
<div class="n" style="left:381px;top:215.29px"><p>Frederick</p><p>Walter Capell</p><p class="b"><i style="width:12.94px"></i></p></div>
<div class="n" style="left:424px;top:215.29px"><p>William</p><p>Capel</p><p class="b"><i style="width:12.94px"></i></p></div>
<div class="n" style="left:444px;top:215.29px"><p>John</p><p>Capel</p><p class="b"><i style="width:12.94px"></i></p></div>
<div class="n" style="left:463px;top:215.29px"><p>George</p><p>Capel</p><p class="b"><i style="width:12.94px"></i></p></div>
<div class="n" style="left:486px;top:215.29px"><p>James</p><p>Capel</p><p class="b"><i style="width:12.94px"></i></p></div>
<div class="n" style="left:506.7px;top:215.29px"><p>Phillip</p><p>Capel</p><p class="b"><i style="width:20px"></i></p></div>
<div class="n" style="left:528px;top:215.29px"><p>Timothy</p><p>Capel</p><p class="b"><i style="width:21.18px"></i></p></div>
<div class="n" style="left:565.5px;top:215.29px"><p>John Capel</p><p class="b"><i style="width:21.18px"></i></p><p>m. Mary Ann</p><p>Clark <i style="width:21.18px"></i></p></div>
<div class="n" style="left:599px;top:215.29px"><p>Thomas Capel</p><p class="b"><i style="width:21.18px"></i></p><p>m. Rebecca</p><p>Howard</p></div>
<div class="n" style="left:647.5px;top:215.29px"><p>Joseph Capel</p><p class="b"><i style="width:22.35px"></i></p><p>m. Hannah Eliza Lett <i style="width:10.59px"></i></p><p>m.ii Deborah Brooks</p></div>
<div class="n" style="left:698px;top:215.29px"><p>James Capel</p><p class="b"><i style="width:21.18px"></i></p><p>m. Mary White</p><p class="b"><i style="width:12.94px"></i></p></div>
<div class="n" style="left:746px;top:215.29px"><p>George Capel</p><p class="b"><i style="width:21.18px"></i></p><p>m. Ellen J Whitehall</p></div>
<div class="n" style="left:799px;top:215.29px"><p>Arthur Capel</p><p class="b"><i style="width:21.18px"></i></p><p>m. Martha Ann</p><p>McConnell</p><p class="b"><i style="width:22.35px"></i></p></div>
<div class="n" style="left:838px;top:215.29px"><p>Octavius</p><p>Capel</p><p class="b"><i style="width:22.35px"></i></p></div>
<div class="n" style="left:863px;top:215.29px"><p>Harry Glyn</p><p>Capel</p><p class="b"><i style="width:22.35px"></i></p></div>
<div class="n" style="left:896.7px;top:215.29px"><p>Herbert Frederick</p><p>Decimus Capel</p><p class="b"><i style="width:22.35px"></i></p></div>
<div class="n" style="left:941px;top:215.29px"><p>Frank Capel <i style="width:12.94px"></i></p><p>m. Barbara Annie</p><p>Griffin <i style="width:12.94px"></i></p></div>
<div class="n" style="left:987px;top:215.29px"><p>Amy Capel</p><p class="b"><i style="width:12.94px"></i></p><p>m. Frederick Smith</p></div>
<div class="n" style="left:1023px;top:215.29px"><p>Vida Capel</p><p class="b"><i style="width:22.35px"></i></p></div>
<div class="n" style="left:1051px;top:215.29px"><p>Edward</p><p>Capel</p><p class="b"><i style="width:12.94px"></i></p></div>
<div class="n" style="left:1073px;top:215.29px"><p>Newman</p><p>Capel</p><p class="b"><i style="width:22.35px"></i></p></div>
<div class="n" style="left:1096px;top:215.29px"><p>Ellen</p><p>Capel</p><p class="b"><i style="width:22.35px"></i></p></div>
<div class="n" style="left:1129px;top:215.29px"><p>Reuben Capel</p><p class="b"><i style="width:21.18px"></i></p><p>m. Alice Capel</p><p class="b"><i style="width:22.35px"></i></p></div>
<div class="n" style="left:1164.5px;top:215.29px"><p>Clara Capel</p><p class="b"><i style="width:22.35px"></i></p></div>
<div class="n" style="left:1192.5px;top:215.29px"><p>Ann Capel</p><p class="b"><i style="width:12.94px"></i></p></div>
<div class="n" style="left:1224.7px;top:215.29px"><p>Clara Capel</p><p class="b"><i style="width:12.94px"></i></p><p>m. Jacob Baker</p><p class="b"><i style="width:12.94px"></i></p></div>
<div class="n" style="left:1259px;top:215.29px"><p>Louisa</p><p>Hannah Capel</p><p class="b"><i style="width:11.76px"></i></p></div>
<div class="n" style="left:1294.5px;top:215.29px"><p>Adelaide Louisa</p><p>Capel <i style="width:12.94px"></i></p></div>
<div class="n" style="left:60.5px;top:261.29px"><p>Ellen Smith</p><p class="b"><i style="width:12.94px"></i></p></div>
<div class="n" style="left:90px;top:261.29px"><p>Betsy Smith</p><p class="b"><i style="width:12.94px"></i></p></div>
<div class="n" style="left:119.7px;top:261.29px"><p>Ann Smith</p></div>
<div class="n" style="left:176px;top:261.29px"><p>Thomas Capel</p><p class="b"><i style="width:12.94px"></i></p></div>
<div class="n" style="left:221.7px;top:261.29px"><p>Arthur Capel</p><p class="b"><i style="width:12.94px"></i></p></div>
<div class="n" style="left:269.7px;top:261.29px"><p>William Arthur Capel</p><p class="b"><i style="width:21.18px"></i></p></div>
<div class="n" style="left:598px;top:261.29px"><p>Thomas Capel</p><p class="b"><i style="width:12.94px"></i></p></div>
<div class="n" style="left:708px;top:261.29px"><p>Robert George</p><p>Capel <i style="width:12.94px"></i></p></div>
<div class="n" style="left:753px;top:261.29px"><p>Elizabeth Ruth</p><p>Capel <i style="width:12.94px"></i></p></div>
<div class="n" style="left:797px;top:261.29px"><p>Arthur Edward</p><p>Capel</p></div>
<div class="n" style="left:925px;top:261.29px"><p>Grace Capel</p></div>
<div class="n" style="left:977.5px;top:261.29px"><p>Norman William Capel</p><p class="b"><i style="width:22.35px"></i></p><p>m. Deborah Howard</p><p class="b"><i style="width:22.35px"></i></p></div>
<div class="n" style="left:1033px;top:261.29px"><p>Edward Capel</p><p class="b"><i style="width:21.18px"></i></p><p>m. Kate Elizabeth Royce</p><p class="b"><i style="width:21.18px"></i></p></div>
<div class="n" style="left:1089.5px;top:261.29px"><p>Horace Rowland</p><p>Capel</p><p class="b"><i style="width:21.18px"></i></p></div>
<div class="n" style="left:1120px;top:261.29px"><p>Samuel</p><p>Capel</p><p class="b"><i style="width:21.18px"></i></p></div>
<div class="n" style="left:1146px;top:261.29px"><p>Louisa Mary</p><p>Capel</p><p class="b"><i style="width:12.94px"></i></p></div>
<div class="n" style="left:1172.5px;top:261.29px"><p>Florence</p><p>Caroline</p><p>Capel <i style="width:12.94px"></i></p></div>
<div class="n" style="left:1213px;top:261.29px"><p>Thomas Edward Capel</p><p class="b"><i style="width:21.18px"></i></p><p>m. Elizabeth Varney</p><p class="b"><i style="width:12.94px"></i></p></div>
<div class="n" style="left:1254px;top:261.29px"><p>Annie</p><p>Patience</p><p>Capel <i style="width:12.94px"></i></p></div>
<div class="n" style="left:1284.7px;top:261.29px"><p>Tamar</p><p>Capel</p><p class="b"><i style="width:12.94px"></i></p></div>
<div class="n" style="left:1313px;top:261.29px"><p>Edward</p><p>"Frederick" Capel</p><p class="b"><i style="width:12.94px"></i></p></div>
<div class="n" style="left:1346px;top:261.29px"><p>Septimus</p><p>Capel</p><p class="b"><i style="width:21.18px"></i></p></div>
<div class="n" style="left:1383px;top:261.29px"><p>Margaret Lily Capel</p><p class="b"><i style="width:21.18px"></i></p><p>m. William Thomas</p><p>Picketts <i style="width:21.18px"></i></p></div>
<div class="n" style="left:61px;top:295.29px"><p>Frederick</p><p>Capell</p><p class="b"><i style="width:22.35px"></i></p></div>
<div class="n" style="left:108px;top:295.29px"><p>Clara Martha Capell</p><p class="b"><i style="width:22.35px"></i></p><p>m. William Ernest Chadd</p><p class="b"><i style="width:14.12px"></i></p></div>
<div class="n" style="left:153.7px;top:295.29px"><p>Walter</p><p>Capell</p><p class="b"><i style="width:21.18px"></i></p></div>
<div class="n" style="left:184px;top:295.29px"><p>Elizabeth</p><p>"Ciss" Capell</p><p class="b"><i style="width:22.35px"></i></p></div>
<div class="n" style="left:233px;top:295.29px"><p>Charles Albert Capell</p><p class="b"><i style="width:21.18px"></i></p><p>m. Ellen Dyke <i style="width:22.35px"></i></p></div>
<div class="n" style="left:298px;top:295.29px"><p>Alfred Capell <i style="width:21.18px"></i></p><p>m. Dorothy Ledger <i style="width:21.18px"></i></p></div>
<div class="n" style="left:362.5px;top:295.29px"><p>Maude Capell <i style="width:21.18px"></i></p><p>m. Charles Alexander</p><p>Wickens <i style="width:22.35px"></i></p></div>
<div class="n" style="left:427.5px;top:295.29px"><p>Amos</p><p>Capel</p><p class="b"><i style="width:12.94px"></i></p></div>
<div class="n" style="left:460px;top:295.29px"><p>George Capel</p><p class="b"><i style="width:22.35px"></i></p><p>m. Sarah Baldwin</p></div>
<div class="n" style="left:504px;top:295.29px"><p>Annie Capel<i style="width:14.12px"></i></p><p>m. James Marriot</p></div>
<div class="n" style="left:539px;top:295.29px"><p>Henrietta</p><p>Capel</p><p class="b"><i style="width:12.94px"></i></p></div>
<div class="n" style="left:566px;top:295.29px"><p>Rhoda</p><p>Capel</p><p class="b"><i style="width:12.94px"></i></p></div>
<div class="n" style="left:592.5px;top:295.29px"><p>Beatrice</p><p>Capel</p><p class="b"><i style="width:12.94px"></i></p></div>
<div class="n" style="left:619px;top:295.29px"><p>Minnie</p><p>Capel</p><p class="b"><i style="width:12.94px"></i></p></div>
<div class="n" style="left:645.5px;top:295.29px"><p>Arthur Glyn</p><p>Capel</p><p class="b"><i style="width:12.94px"></i></p></div>
<div class="n" style="left:688px;top:295.29px"><p>Walter Edward</p><p>Capel <i style="width:12.94px"></i></p></div>
<div class="n" style="left:724px;top:295.29px"><p>Rose Hannah</p><p>Capel <i style="width:12.94px"></i></p></div>
<div class="n" style="left:760px;top:295.29px"><p>Eliza Annie</p><p>Capel <i style="width:12.94px"></i></p></div>
<div class="n" style="left:795px;top:295.29px"><p>Henry Edward</p><p>Capel <i style="width:12.94px"></i></p></div>
<div class="n" style="left:861.7px;top:295.29px"><p>George Wilford Capel</p><p class="b"><i style="width:22.35px"></i></p><p>m. Florence Agar</p></div>
<div class="n" style="left:907px;top:295.29px"><p>William Capel</p><p class="b"><i style="width:12.94px"></i></p></div>
<div class="n" style="left:945px;top:295.29px"><p>David Capel</p><p class="b"><i style="width:12.94px"></i></p></div>
<div class="n" style="left:984.5px;top:295.29px"><p>John Capel</p><p class="b"><i style="width:12.94px"></i></p></div>
<div class="n" style="left:1020.5px;top:295.29px"><p>Anne Capel</p><p class="b"><i style="width:12.94px"></i></p></div>
<div class="n" style="left:1056.7px;top:295.29px"><p>Joseph Albert</p><p>Capel <i style="width:12.94px"></i></p></div>
<div class="n" style="left:1092.5px;top:295.29px"><p>Rose Capel</p><p class="b"><i style="width:12.94px"></i></p></div>
<div class="n" style="left:1128px;top:295.29px"><p>Arthur Capel</p><p class="b"><i style="width:12.94px"></i></p></div>
<div class="n" style="left:69px;top:337.49px"><p>Bernard Charles</p><p>Dyke Capell <i style="width:21.18px"></i></p></div>
<div class="n" style="left:121px;top:337.49px"><p>Olive Winifred Capell</p><p class="b"><i style="width:22.35px"></i></p><p>m. John "Jack" Simpson</p><p class="b"><i style="width:22.35px"></i></p></div>
<div class="n" style="left:185px;top:337.49px"><p>Rowena Kathleen Capell</p><p class="b"><i style="width:22.35px"></i></p><p>m. Jack Francis Ward</p><p class="b"><i style="width:22.35px"></i></p></div>
<div class="n" style="left:255px;top:337.49px"><p>Juliette Rosemary Capell</p><p class="b"><i style="width:22.35px"></i></p><p>m. Christopher Trowbridge</p><p>m.ii Sean Folan<i style="width:16.47px"></i></p></div>
<div class="n" style="left:309.7px;top:337.49px"><p>Edward</p><p>Capell</p><p class="b"><i style="width:12.94px"></i></p><p>m. Brenda</p></div>
<div class="n" style="left:362.5px;top:337.49px"><p>Joyce Wickens<i style="width:15.29px"></i></p><p>m. Herbert "Taff" Wellbeloved</p><p>m.ii Thomas Dimond Fuge</p><p class="b"><i style="width:12.94px"></i></p></div>
<div class="n" style="left:441px;top:337.49px"><p>Cecil Capel</p><p class="b"><i style="width:22.35px"></i></p><p>m. Alice Jenkins</p></div>
<div class="n" style="left:486px;top:337.49px"><p>Richard Baldwin</p><p>Capel<i style="width:14.12px"></i></p><p>m. Kate Chandler</p></div>
<div class="n" style="left:552.5px;top:337.49px"><p>Amos Marriot</p><p class="b"><i style="width:12.94px"></i></p></div>
<div class="n" style="left:589px;top:337.49px"><p>Edith Marriot</p></div>
<div class="n" style="left:622px;top:337.49px"><p>Hetty Marriot</p></div>
<div class="n" style="left:658px;top:337.49px"><p>Arthur Marriot</p></div>
<div class="n" style="left:693px;top:337.49px"><p>George Marriot</p></div>
<div class="n" style="left:729px;top:337.49px"><p>Marc Marriot</p></div>
<div class="n" style="left:813px;top:337.49px"><p>Arthur Capel <i style="width:12.94px"></i></p></div>
<div class="n" style="left:857px;top:337.49px"><p>Dorothy Capel</p></div>
<div class="n" style="left:901.7px;top:337.49px"><p>Ruth Capel</p></div>
<div class="n" style="left:946px;top:337.49px"><p>Albert Capel</p></div>
<div class="n" style="left:991px;top:337.49px"><p>Eric Capel</p></div>
<div class="n" style="left:1050px;top:338.29px"><p>Samuel Capel</p><p class="b"><i style="width:12.94px"></i></p></div>
<div class="n" style="left:1091px;top:338.29px"><p>Annie Louise</p><p>Capel <i style="width:12.94px"></i></p></div>
<div class="n" style="left:1133px;top:338.29px"><p>Florence Capel</p><p class="b"><i style="width:12.94px"></i></p></div>
<div class="n" style="left:1174px;top:338.29px"><p>Elizabeth Capel</p><p class="b"><i style="width:22.35px"></i></p><p>m. James Morby</p><p class="b"><i style="width:22.35px"></i></p></div>
<div class="n" style="left:1216px;top:338.29px"><p>Arthur Edward</p><p>Capel "Sonny"</p><p class="b"><i style="width:12.94px"></i></p></div>
<div class="n" style="left:1256px;top:338.29px"><p>Thomas Capel</p></div>
<div class="n" style="left:1294px;top:338.29px"><p>Violet Capel</p><p class="b"><i style="width:12.94px"></i></p></div>
<div class="n" style="left:1331.7px;top:338.29px"><p>Joan Capel</p></div>
<div class="n" style="left:1384px;top:337.49px"><p>William Joseph</p><p>Picketts <i style="width:21.18px"></i></p><p>m. Marjorie Bramley</p><p class="b"><i style="width:22.35px"></i></p></div>
<div class="n" style="left:64.5px;top:380.99px"><p>Mary Veronica</p><p>Simpson<i style="width:14.12px"></i></p><p>m. Bernard</p><p>"Lloyd" Twaites</p><p class="b"><i style="width:12.94px"></i></p></div>
<div class="n" style="left:101.7px;top:380.99px"><p>Allan John</p><p>Simpson<i style="width:14.12px"></i></p><p>m. Patricia Ann</p><p>Machen <i style="width:12.94px"></i></p></div>
<div class="n" style="left:145px;top:380.99px"><p>John Simpson<i style="width:14.12px"></i></p><p>m. Doreen Kirkman</p><p>m.ii Karen Kenwright</p><p class="b"><i style="width:12.94px"></i></p></div>
<div class="n" style="left:190px;top:380.99px"><p>Barbara Anne</p><p>Simpson<i style="width:14.12px"></i></p><p>m. Ronald James</p><p>Smith <i style="width:12.94px"></i></p></div>
<div class="n" style="left:231px;top:380.99px"><p>Stephen Bernard</p><p>Simpson<i style="width:14.12px"></i></p><p>m. Sylvia Pollard</p><p class="b"><i style="width:12.94px"></i></p></div>
<div class="n" style="left:274.7px;top:380.99px"><p>Philip Charles</p><p>Simpson<i style="width:14.12px"></i></p><p>m. Denise Kemp</p><p class="b"><i style="width:22.35px"></i></p></div>
<div class="n" style="left:318px;top:380.99px"><p>Dianne Ward</p><p class="b"><i style="width:12.94px"></i></p></div>
<div class="n" style="left:350px;top:380.99px"><p>Rebecca Ward</p><p class="b"><i style="width:12.94px"></i></p></div>
<div class="n" style="left:386px;top:380.99px"><p>John Folan</p><p class="b"><i style="width:12.94px"></i></p></div>
<div class="n" style="left:415px;top:380.99px"><p>Helen Folan</p><p class="b"><i style="width:12.94px"></i></p></div>
<div class="n" style="left:464.7px;top:380.99px"><p>Cyril Capel</p><p class="b"><i style="width:22.35px"></i></p></div>
<div class="n" style="left:506.7px;top:380.99px"><p>George William Capel</p><p class="b"><i style="width:12.94px"></i></p><p>m. Dorothy "Margaret"</p><p>Lomas<i style="width:14.12px"></i></p></div>
<div class="n" style="left:560px;top:380.99px"><p>Norah Capel<i style="width:15.29px"></i></p><p>m. John Fontaine Vesey</p></div>
<div class="n" style="left:620.5px;top:380.99px"><p>Mary Capel</p><p class="b"><i style="width:12.94px"></i></p></div>
<div class="n" style="left:653px;top:380.99px"><p>Anne Capel</p><p class="b"><i style="width:12.94px"></i></p></div>
<div class="n" style="left:1384px;top:380.99px"><p>Antony Picketts</p><p class="b"><i style="width:12.94px"></i></p></div>
<div class="n" style="left:1156px;top:381.79px"><p>Ronald Derick Morby <i style="width:12.94px"></i></p><p>m. Marian J Hilder <i style="width:12.94px"></i></p></div>
<div class="n" style="left:1230px;top:381.79px"><p>John Trevor Morby <i style="width:22.35px"></i></p><p>m. Lilian Ivy Rogers <i style="width:12.94px"></i></p></div>
<div class="n" style="left:1304px;top:381.79px"><p>Yvonne Diana Morby</p></div>
<div class="n" style="left:65.5px;top:434.49px"><p>Karen Victoria</p><p>Simpson<i style="width:14.12px"></i></p></div>
<div class="n" style="left:104.5px;top:434.49px"><p>Laura Catherine</p><p>Simpson<i style="width:14.12px"></i></p><p>m. Stuart</p><p>Macpherson</p></div>
<div class="n" style="left:137px;top:434.49px"><p>Daniel</p><p>Matthew</p><p>Simpson</p><p class="b"><i style="width:12.94px"></i></p></div>
<div class="n" style="left:174px;top:434.49px"><p>Jade</p><p>Kenwright</p><p class="b"><i style="width:12.94px"></i></p></div>
<div class="n" style="left:206px;top:434.49px"><p>Nathan James</p><p>Simpson</p><p class="b"><i style="width:12.94px"></i></p></div>
<div class="n" style="left:245px;top:434.49px"><p>James Lee</p><p>Smith<i style="width:14.12px"></i></p></div>
<div class="n" style="left:278px;top:434.49px"><p>Ryan Alan</p><p>Smith<i style="width:14.12px"></i></p></div>
<div class="n" style="left:323.7px;top:434.49px"><p>Joanne Simpson</p><p class="b"><i style="width:12.94px"></i></p><p>m. Ben McDermaid</p></div>
<div class="n" style="left:369px;top:434.49px"><p>Matthew John</p><p>Simpson<i style="width:14.12px"></i></p><p>m. Rebecca Handy</p></div>
<div class="n" style="left:422px;top:434.49px"><p>Ashleigh</p><p>Simpson<i style="width:14.12px"></i></p><p>m. Matt Sorbie</p></div>
<div class="n" style="left:462.7px;top:434.49px"><p>Elliott Simpson<i style="width:14.12px"></i></p><p>met Sophie</p></div>
<div class="n" style="left:511.7px;top:434.49px"><p>Martin Capel</p><p class="b"><i style="width:12.94px"></i></p></div>
<div class="n" style="left:544px;top:434.49px"><p>Judith Capel</p><p class="b"><i style="width:12.94px"></i></p></div>
<div class="n" style="left:1088.7px;top:434.49px"><p>Karen L Morby</p><p class="b"><i style="width:12.94px"></i></p></div>
<div class="n" style="left:1128px;top:434.49px"><p>Andrew Morby</p><p class="b"><i style="width:12.94px"></i></p></div>
<div class="n" style="left:1165.5px;top:434.49px"><p>Craig F Morby</p><p class="b"><i style="width:12.94px"></i></p></div>
<div class="n" style="left:1227.5px;top:434.49px"><p>Michael Colin Morby <i style="width:12.94px"></i></p><p>m. Jean Brown <i style="width:12.94px"></i></p></div>
<div class="n" style="left:1281.7px;top:434.49px"><p>Anthony John</p><p>Morby <i style="width:12.94px"></i></p></div>
<div class="n" style="left:1333px;top:434.49px"><p>Julie Elizabeth Morby <i style="width:12.94px"></i></p><p>m. Barry Slaymaker <i style="width:12.94px"></i></p></div>
<div class="n" style="left:157.5px;top:478.69px"><p>Ariah Rose</p><p class="b"><i style="width:12.94px"></i></p></div>
<div class="n" style="left:190px;top:478.69px"><p>Sol</p><p class="b"><i style="width:12.94px"></i></p></div>
<div class="n" style="left:277px;top:478.69px"><p>Oliver Ben McDermaid</p><p class="b"><i style="width:12.94px"></i></p></div>
<div class="n" style="left:327px;top:478.69px"><p>Lyla Jo McDermaid</p><p class="b"><i style="width:12.94px"></i></p></div>
<div class="n" style="left:379.7px;top:478.69px"><p>Leo George</p><p>Simpson<i style="width:14.12px"></i></p></div>
<div class="n" style="left:421px;top:478.69px"><p>Isaac George</p><p>Simpson<i style="width:14.12px"></i></p></div>
<div class="n" style="left:478px;top:478.69px"><p>Lily Rose</p><p class="b"><i style="width:12.94px"></i></p></div>
<div class="n" style="left:511px;top:478.69px"><p>Jack Elliott</p><p class="b"><i style="width:12.94px"></i></p></div>
<div class="n" style="left:1162.5px;top:478.69px"><p>James Edward Morby</p><p class="b"><i style="width:12.94px"></i></p></div>
<div class="n" style="left:1215.5px;top:478.69px"><p>Helen Morby</p><p class="b"><i style="width:12.94px"></i></p></div>
<div class="n" style="left:1280px;top:478.69px"><p>Claire E Slaymaker</p><p class="b"><i style="width:12.94px"></i></p></div>
<div class="n" style="left:1330.5px;top:478.69px"><p>Joanne L Slaymaker</p><p class="b"><i style="width:12.94px"></i></p></div>
<div class="n" style="left:1380.5px;top:478.69px"><p>Danielle A.Slaymaker</p><p class="b"><i style="width:12.94px"></i></p></div>
<div id="legt">GENERATIONS</div>
<div class="nt" style="top:368.27px;transform:translateX(-50%) scaleX(0.8029)"><b>CAPEL or CAPELL?</b></div>
<div class="nt" style="top:379.07px;transform:translateX(-50%) scaleX(0.8864)">For this chart, the name has been defaulted to <b>CAPEL</b>, with the</div>
<div class="nt" style="top:389.77px;transform:translateX(-50%) scaleX(0.8781)">exception of recent generations known to be <b>CAPELL</b>.</div>
<div class="nt" style="top:405.47px;transform:translateX(-50%) scaleX(0.8759)"><b>Arthur Algernon Capell</b> (1803 – 1892)</div>
<div class="nt" style="top:415.77px;transform:translateX(-50%) scaleX(0.8818)">became the <b>6</b>th Earl of Essex in <b>1839</b>. He was given the name of</div>
<div class="nt" style="top:426.77px;transform:translateX(-50%) scaleX(0.9040)">Arthur Algernon <i>Capel</i> at birth, but was given permission by</div>
<div class="nt" style="top:437.07px;transform:translateX(-50%) scaleX(0.9035)"><b>Q</b>ueen Victoria to revert to what was the ancient spelling of the name.</div>
<div class="nt" style="top:450.27px;transform:translateX(-50%) scaleX(0.8842)">This was legally changed by Royal Licence to <i>Capell</i> on <b>23</b> July <b>1880</b>.</div>
<div class="nt" style="top:463.27px;transform:translateX(-50%) scaleX(0.8992)">Olive Winifred Capell’s notes said that her great, great grandfather,</div>
<div class="nt" style="top:474.07px;transform:translateX(-50%) scaleX(0.9092)">John Capell, thought that <i>“If it’s good enough for the Earl, then it was good</i></div>
<div class="nt" style="top:484.47px;transform:translateX(-50%) scaleX(0.9059)"><i>enough for me”</i>, and changed the spelling of the family name to <i>Capell</i>.</div>
<div class="lg" style="left:46px;top:501.7px"><span style="color:#8aa51c">My</span> Family</div><div class="lg" style="left:46.5px;top:506.6px;font-size:5.6px">Generations</div>
<div id="credit">Chart prepared by Susan Sullivan,<br>familygenerations.com ©2022</div>
</div></body></html>
